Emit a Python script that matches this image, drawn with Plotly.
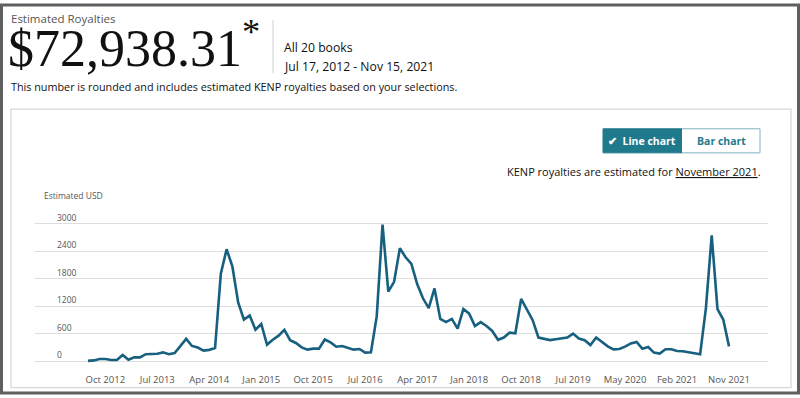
import pandas as pd
import plotly.graph_objects as go

# ---------------- data ----------------
all_months = [d.strftime("%b %Y") for d in pd.date_range("2012-07-01", "2021-11-01", freq="MS")]
months = [m for m in all_months if m != "Dec 2019"]  # one month absent in the source series

royalties = [
    5, 15, 45, 45, 25, 25, 135, 30, 85, 80,
    150, 150, 160, 190, 150, 175, 330, 485, 330, 295,
    230, 245, 285, 1905, 2440, 2065, 1280, 905, 995, 685,
    810, 360, 465, 555, 680, 457, 395, 300, 250, 271,
    271, 470, 407, 314, 330, 293, 250, 264, 186, 193,
    980, 2980, 1515, 1730, 2460, 2265, 2120, 1680, 1370, 1157,
    1585, 920, 850, 920, 707, 1135, 1035, 765, 850, 765,
    657, 464, 514, 620, 607, 1355, 1120, 892, 514, 478,
    457, 478, 493, 514, 600, 493, 457, 350, 514, 407,
    321, 255, 264, 314, 386, 418, 268, 307, 185, 165,
    257, 257, 221, 214, 193, 171, 150, 1157, 2745, 1135,
    907, 321,
]

tick_labels = ["Oct 2012", "Jul 2013", "Apr 2014", "Jan 2015", "Oct 2015", "Jul 2016",
               "Apr 2017", "Jan 2018", "Oct 2018", "Jul 2019", "May 2020", "Feb 2021", "Nov 2021"]
y_ticks = [0, 600, 1200, 1800, 2400, 3000]

# ---------------- layout geometry ----------------
W, H = 800, 398
L, R, T, B = 35, 768, 200, 369
PX_PER_USD = 140 / 3000.0  # 0 gridline at y=364, 3000 at y=224
Y_MIN = -(B - 364) / PX_PER_USD
Y_MAX = 3000 + (224 - T) / PX_PER_USD


def fx(px):
    return (px - L) / (R - L)


def fy(py):
    return (B - py) / (B - T)


FONT = "Open Sans, Noto Sans, sans-serif"
LINE = "#17607f"
TEAL = "#1f7a8c"

fig = go.Figure()
fig.add_trace(go.Scatter(
    x=months, y=royalties, mode="lines",
    line=dict(color=LINE, width=2.6),
    hoverinfo="skip", showlegend=False,
))

shapes = [
    # outer frame
    dict(type="rect", xref="paper", yref="paper", x0=fx(1.5), x1=fx(798.5), y0=fy(1.5), y1=fy(396.5),
         line=dict(color="#5f5f5f", width=3), layer="above"),
    # chart box
    dict(type="rect", xref="paper", yref="paper", x0=fx(11), x1=fx(791), y0=fy(107.5), y1=fy(391),
         line=dict(color="#d8d8d8", width=1.3), layer="below"),
    # separator
    dict(type="line", xref="paper", yref="paper", x0=fx(273), x1=fx(273), y0=fy(17), y1=fy(71),
         line=dict(color="#cfcfcf", width=1)),
    # buttons
    dict(type="rect", xref="paper", yref="paper", x0=fx(681), x1=fx(760), y0=fy(127.5), y1=fy(152),
         line=dict(color="#7fb5c0", width=1), fillcolor="white"),
    dict(type="rect", xref="paper", yref="paper", x0=fx(603), x1=fx(681.5), y0=fy(127.5), y1=fy(152),
         line=dict(color=TEAL, width=1), fillcolor=TEAL),
]

ann = []


def text(px, py, s, size, color="#111111", family=FONT, xanchor="left", yanchor="middle"):
    ann.append(dict(x=fx(px), y=fy(py), xref="paper", yref="paper", text=s, showarrow=False,
                    xanchor=xanchor, yanchor=yanchor, font=dict(size=size, color=color, family=family)))


SERIF = "Liberation Serif, DejaVu Serif, serif"
text(9, 15, "Estimated Royalties", 11.5, "#555555")
text(6, 42, "$72,938.31<sup>*</sup>", 52, "#111111", family=SERIF)
text(282, 45, "All 20 books", 12.2)
text(282, 64, "Jul 17, 2012 - Nov 15, 2021", 12.2)
text(9, 84, "This number is rounded and includes estimated KENP royalties based on your selections.", 10.8)
text(642, 140, "<b>✔  Line chart</b>", 10.5, "white", xanchor="center")
text(721, 140, "<b>Bar chart</b>", 10.5, TEAL, xanchor="center")
text(763, 171, "KENP royalties are estimated for <span style='text-decoration:underline'>November 2021</span>.",
     11, "#111111", xanchor="right")
text(42, 195, "Estimated USD", 8.5, "#555555")

fig.update_layout(
    width=W, height=H,
    margin=dict(l=L, r=W - R, t=T, b=H - B, pad=0),
    paper_bgcolor="white", plot_bgcolor="white",
    font=dict(family=FONT),
    shapes=shapes, annotations=ann,
    xaxis=dict(
        type="category", range=[-9.18, 117.75],
        tickmode="array", tickvals=tick_labels, ticktext=tick_labels,
        showgrid=False, zeroline=False, showline=False, ticks="",
        tickfont=dict(size=9.5, color="#555555", family=FONT),
        ticklabelstandoff=6,
    ),
    yaxis=dict(
        range=[Y_MIN, Y_MAX], tickmode="array", tickvals=y_ticks,
        ticktext=[str(v) for v in y_ticks],
        showgrid=True, gridcolor="#dedede", gridwidth=1,
        zeroline=False, showline=False, ticks="",
        ticklabelposition="inside top", ticklabelstandoff=19,
        tickfont=dict(size=8.5, color="#555555", family=FONT),
    ),
)

fig.write_html("out.html", config={"displayModeBar": False},
               post_script="document.body.style.margin='0';document.body.style.overflow='hidden';")
